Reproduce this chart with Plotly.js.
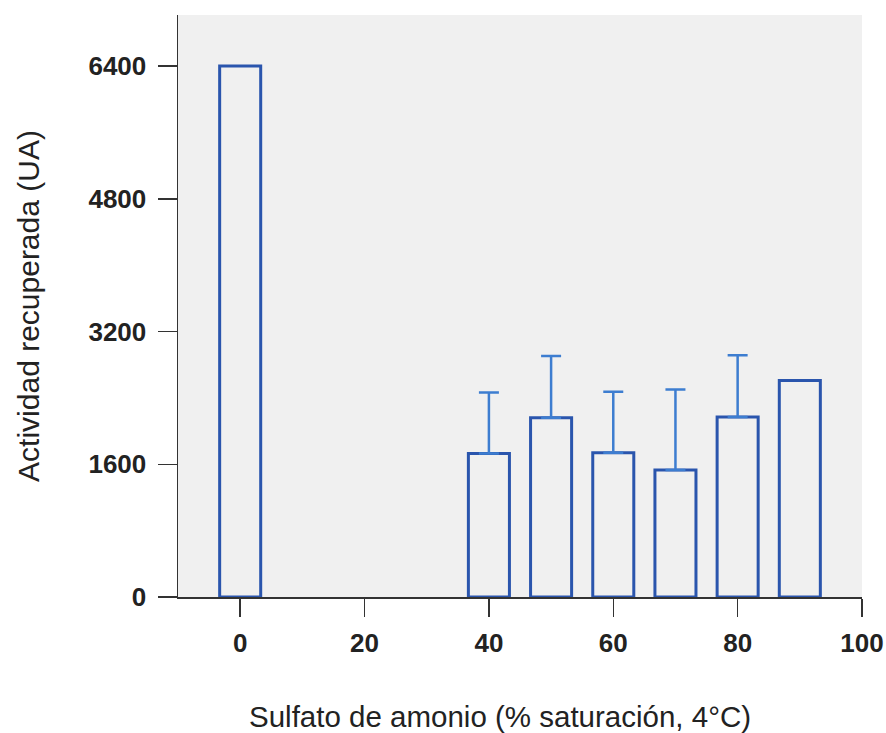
<!DOCTYPE html>
<html>
<head>
<meta charset="utf-8">
<script src="https://cdn.plot.ly/plotly-3.0.1.min.js"></script>
<style>
  html, body { margin: 0; padding: 0; background: #ffffff; }
  #chart { width: 886px; height: 733px; }
</style>
</head>
<body>
<div id="chart"></div>
<script>
// Ammonium sulfate saturation (%)
const saturation = [0, 40, 50, 60, 70, 80, 90];
// Recovered activity (UA)
const activity = [6400, 1730, 2160, 1740, 1530, 2170, 2610];
// Points with (upper-only) error bars
const errSaturation = [40, 50, 60, 70, 80];
const errActivity = [1730, 2160, 1740, 1530, 2170];
const errUpper = [735, 745, 735, 970, 745];
const xTicks = [0, 20, 40, 60, 80, 100];
const yTicks = [0, 1600, 3200, 4800, 6400];

const barTrace = {
  type: 'bar',
  x: saturation,
  y: activity,
  width: 6.6,
  marker: { color: 'rgba(0,0,0,0)', line: { color: '#2a55ad', width: 3 } },
  hoverinfo: 'x+y',
  showlegend: false
};

const errTrace = {
  type: 'scatter',
  mode: 'markers',
  x: errSaturation,
  y: errActivity,
  marker: { size: 1, color: 'rgba(0,0,0,0)' },
  error_y: {
    type: 'data',
    symmetric: false,
    array: errUpper,
    arrayminus: errUpper.map(() => 0),
    color: '#3d7dd0',
    thickness: 2.5,
    width: 10
  },
  showlegend: false,
  hoverinfo: 'skip'
};

const layout = {
  width: 886,
  height: 733,
  margin: { l: 178, r: 24, t: 15, b: 136 },
  paper_bgcolor: '#ffffff',
  plot_bgcolor: '#f0f0f0',
  showlegend: false,
  xaxis: {
    range: [-10, 100],
    tickvals: xTicks,
    ticktext: xTicks.map(String),
    ticks: 'outside',
    ticklen: 18,
    tickwidth: 1.5,
    tickcolor: '#333333',
    ticklabelstandoff: 4,
    showline: true,
    linecolor: '#333333',
    linewidth: 1.5,
    showgrid: false,
    zeroline: false,
    tickfont: { family: 'Liberation Sans, Arial, sans-serif', size: 26, color: '#222222', weight: 'bold' }
  },
  yaxis: {
    range: [0, 7015],
    tickvals: yTicks,
    ticktext: yTicks.map(String),
    ticks: 'outside',
    ticklen: 19,
    tickwidth: 1.5,
    tickcolor: '#333333',
    ticklabelstandoff: 6,
    showline: true,
    linecolor: '#333333',
    linewidth: 1.5,
    showgrid: false,
    zeroline: false,
    tickfont: { family: 'Liberation Sans, Arial, sans-serif', size: 26, color: '#222222', weight: 'bold' },
    title: {
      text: 'Actividad recuperada (UA)',
      font: { family: 'Liberation Sans, Arial, sans-serif', size: 30, color: '#222222' },
      standoff: 40
    }
  },
  annotations: [
    { text: 'Sulfato de amonio (% saturación, 4°C)', xref: 'paper', yref: 'paper',
      x: 0.471, y: -0.206, xanchor: 'center', yanchor: 'middle', showarrow: false,
      font: { family: 'Liberation Sans, Arial, sans-serif', size: 29.5, color: '#222222' } }
  ],
  shapes: [
    { type: 'line', xref: 'paper', yref: 'paper', x0: -0.027, x1: 0, y0: 0, y1: 0,
      line: { color: '#333333', width: 1.5 } }
  ]
};

Plotly.newPlot('chart', [barTrace, errTrace], layout, { displayModeBar: false, staticPlot: true });
</script>
</body>
</html>
